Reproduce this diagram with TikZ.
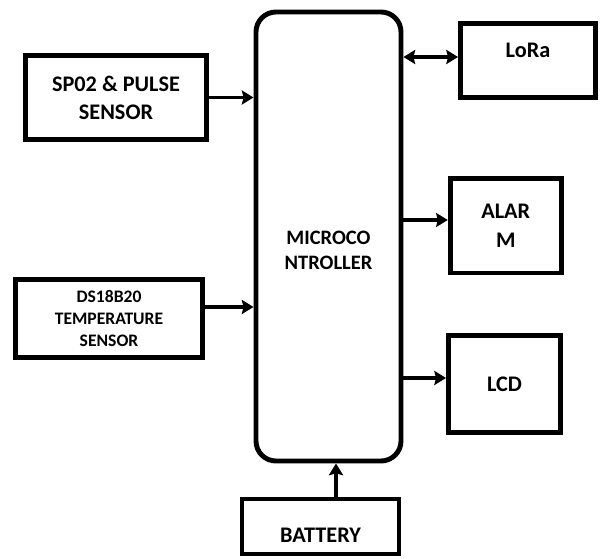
\documentclass[tikz,border=0pt]{standalone}
\usepackage{fontspec}
\setmainfont{Carlito}
\usepackage{tikz}
\usetikzlibrary{arrows.meta, calc}
\tikzset{
  block/.style={
    draw,
    line width=4.2pt,
    align=center,
    font=\fontsize{19}{24}\selectfont\bfseries,
    inner sep=2pt
  },
  block text/.style={
    align=center,
    font=\fontsize{19}{24}\selectfont\bfseries
  },
  mcu box/.style={
    draw,
    line width=4.2pt,
    rounded corners=0.6cm
  },
  io/.style={-{Stealth[length=10pt, width=12pt, inset=1.5pt]}, line width=3.2pt},
  link/.style={{Stealth[length=10pt, width=12pt, inset=1.5pt]}-{Stealth[length=10pt, width=12pt, inset=1.5pt]}, line width=3.2pt}
}

\begin{document}
\begin{tikzpicture}[x=0.03cm, y=-0.03cm]
  \useasboundingbox (0,0) rectangle (606,559);

  % sensors
  \node[block, minimum width=5.43cm, minimum height=2.52cm] (sp02) at (116,97.5) {SP02 \& PULSE\\SENSOR};
  \node[block, minimum width=5.61cm, minimum height=2.34cm, font=\fontsize{15}{19}\selectfont\bfseries] (ds18) at (109,318.5) {DS18B20\\TEMPERATURE\\SENSOR};

  % controller
  \node[mcu box, minimum width=4.35cm, minimum height=13.47cm,
        label={[block text, font=\fontsize{17.5}{21.5}\selectfont\bfseries, yshift=-0.42cm]center:MICROCO\\NTROLLER}] (mcu) at (328.5,236.5) {};

  % outputs
  \node[block, minimum width=4.05cm, minimum height=2.22cm, label={[block text, yshift=0.31cm]center:LoRa}] (lora) at (528,60.5) {};
  \node[block, minimum width=3.33cm, minimum height=2.835cm, font=\fontsize{19}{25.5}\selectfont\bfseries] (alarm) at (505.75,225.75) {ALAR\\M};
  \node[block, minimum width=3.36cm, minimum height=2.91cm] (lcd) at (504.5,384) {LCD};
  \node[block, minimum width=4.71cm, minimum height=1.65cm, label={[block text, yshift=-0.25cm]center:BATTERY}] (battery) at (320.5,526.5) {};

  \draw[io] (sp02.east) -- (sp02.east -| mcu.west);
  \draw[io] (ds18.east |- 0,307) -- (mcu.west |- 0,307);
  \draw[link] (mcu.east |- 0,57) -- (lora.west |- 0,57);
  \draw[io] (mcu.east |- 0,220) -- (alarm.west |- 0,220);
  \draw[io] (mcu.east |- 0,378) -- (lcd.west |- 0,378);
  \draw[io] (battery.north -| 336,0) -- (mcu.south -| 336,0);
\end{tikzpicture}
\end{document}
